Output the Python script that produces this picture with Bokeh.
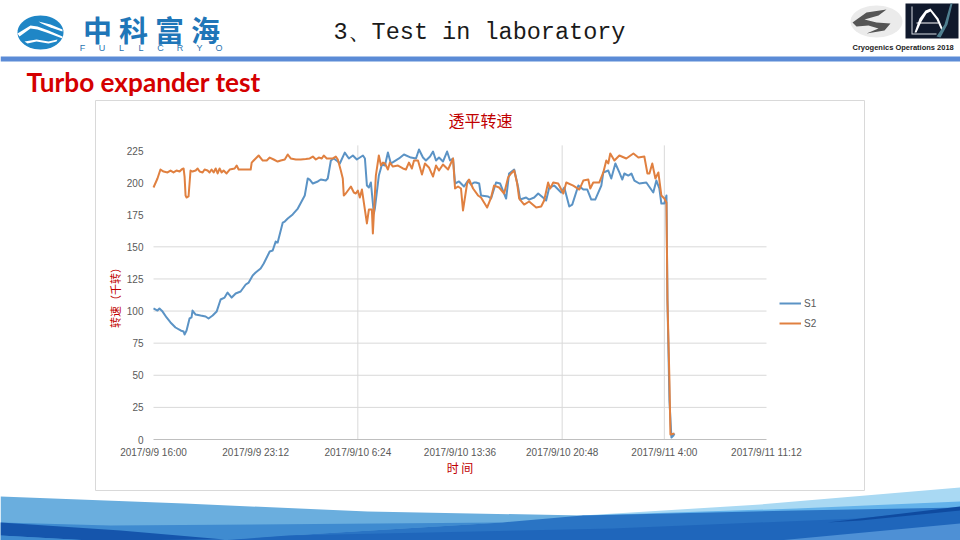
from bokeh.embed import file_html
from bokeh.resources import INLINE
from bokeh.plotting import figure
from bokeh.models import (ColumnDataSource, FixedTicker, Label, Legend, LegendItem,
                          LinearAxis, PolyAnnotation)
import numpy as np

TITLE = "3、Test in laboratory"
SUBTITLE = "Turbo expander test"
CHART_TITLE = "透平转速"
X_LABEL = "时 间"
Y_LABEL = "转速（千转）"
SERIES_NAMES = ["S1", "S2"]

# hours after 2017/9/9 16:00
X_TICKS = [0, 7.2, 14.4, 21.6, 28.8, 36, 43.2]
X_TICK_LABELS = ["2017/9/9 16:00", "2017/9/9 23:12", "2017/9/10 6:24", "2017/9/10 13:36",
                 "2017/9/10 20:48", "2017/9/11 4:00", "2017/9/11 11:12"]
Y_TICKS = [0, 25, 50, 75, 100, 125, 150, 175, 200, 225]
X_GRID = [14.4, 28.8, 36]
Y_GRID = [25, 50, 75, 100, 125, 150]
X_SPAN = (0, 43.2)
Y_SPAN = (0, 229)

S1_H = [0,.28,.42,.64,.92,1.20,1.55,1.91,2.12,2.19,2.33,2.54,2.68,2.75,2.97,3.32,3.67,3.88,4.17,4.45,
        4.73,5.01,5.22,5.51,5.79,6.14,6.50,6.71,6.99,7.20,7.55,7.77,8.19,8.40,8.61,8.75,9.11,9.25,9.46,9.81,
        10.17,10.66,10.87,11.01,11.23,11.58,11.79,12.14,12.28,12.50,12.71,12.99,13.13,13.48,13.77,14.05,14.33,14.76,14.90,15.04,
        15.18,15.32,15.53,15.60,15.88,16.10,16.31,16.52,16.73,16.94,17.30,17.65,18.14,18.50,18.71,18.99,19.20,19.49,19.70,19.91,
        20.12,20.40,20.69,20.90,21.11,21.25,21.53,21.88,22.17,22.38,22.59,22.73,22.95,23.08,23.58,23.79,24.14,24.43,24.85,25.06,
        25.42,25.70,25.84,26.26,26.47,26.83,27.11,27.53,27.67,27.89,28.24,28.73,28.95,29.30,29.51,29.94,30.29,30.57,30.85,31.13,
        31.56,31.70,32.05,32.26,32.55,32.83,33.04,33.18,33.46,33.68,33.89,34.24,34.73,35.22,35.44,35.65,35.79,36.00,36.15,36.22,
        36.36,36.50,36.64,36.71]
S1_V = [102.0,100.4,102.0,99.6,95.0,91.1,87.2,84.9,84.1,81.7,84.9,94.2,95.0,100.4,97.3,96.5,95.8,94.2,96.5,99.6,
        109.0,110.5,114.4,110.5,113.7,115.2,120.7,122.2,127.7,130.0,133.1,137.0,146.4,147.1,154.1,153.4,168.9,169.7,172.0,175.2,
        179.8,190.0,203.2,202.4,199.3,200.9,202.4,201.6,203.2,217.2,218.8,216.4,214.9,223.4,218.8,221.1,218.0,221.1,218.8,197.7,
        196.2,200.1,175.9,179.8,205.5,214.1,213.3,223.4,214.9,216.4,218.8,221.9,219.5,218.8,225.8,219.5,217.2,220.3,224.2,217.2,
        219.5,216.4,224.2,217.2,218.8,199.3,200.9,197.0,201.6,198.5,200.1,200.1,199.3,190.0,189.2,187.6,200.1,199.3,187.6,207.1,
        210.2,196.2,186.8,188.4,186.8,188.4,191.5,187.6,186.1,196.2,197.7,192.3,196.2,181.4,182.9,197.7,194.6,194.6,186.8,186.8,
        197.7,207.9,209.4,203.2,214.9,207.9,202.4,207.1,205.5,207.1,201.6,199.3,200.1,192.3,201.6,195.4,183.7,183.7,190.0,108.2,
        30.4,1.6,3.1,4.7]

S2_H = [0,.28,.49,.71,.99,1.20,1.41,1.62,1.84,1.98,2.12,2.19,2.26,2.33,2.47,2.61,2.75,2.97,3.11,3.25,
        3.46,3.60,3.81,3.95,4.09,4.24,4.38,4.52,4.66,4.80,4.94,5.15,5.37,5.72,5.86,6.00,6.28,6.85,6.92,7.06,
        7.27,7.41,7.70,7.98,8.19,8.47,8.75,8.97,9.25,9.46,9.67,10.03,10.38,10.73,11.01,11.23,11.44,11.65,11.86,12.00,
        12.21,12.64,12.85,12.99,13.20,13.34,13.41,13.55,13.91,14.12,14.26,14.40,14.54,14.69,15.04,15.18,15.39,15.46,15.67,15.88,
        16.03,16.17,16.31,16.52,16.66,16.87,17.23,17.58,17.79,18.00,18.21,18.36,18.64,18.92,19.13,19.41,19.70,19.91,20.12,20.40,
        20.76,21.11,21.25,21.46,21.67,21.81,22.10,22.24,22.52,22.87,23.08,23.51,23.79,24.00,24.36,24.71,24.99,25.20,25.42,25.63,
        25.77,26.12,26.47,26.97,27.32,27.53,27.81,27.96,28.17,28.52,28.88,29.09,29.58,30.01,30.29,30.64,30.78,30.99,31.42,31.70,
        31.91,32.05,32.19,32.48,32.83,33.32,33.82,34.17,34.59,34.81,34.95,35.15,35.37,35.58,35.79,36.00,36.15,36.22,36.36,36.43,
        36.71]
S2_V = [196.2,203.2,210.2,208.6,207.9,209.4,207.9,209.4,208.6,210.2,211.0,204.7,190.0,188.4,189.2,209.4,208.6,209.4,211.0,208.6,
        207.9,210.2,209.4,207.9,210.2,207.9,211.0,207.1,211.0,207.9,209.4,207.1,210.2,211.0,213.3,210.2,210.2,210.2,215.6,217.2,
        219.5,221.1,217.2,217.2,219.5,218.0,216.4,217.2,218.0,221.9,218.8,218.0,218.0,218.4,218.8,220.3,218.0,219.5,218.8,221.1,
        218.8,218.8,220.3,218.0,209.4,203.2,190.0,191.5,197.0,192.3,191.5,193.8,188.4,194.6,168.2,179.1,179.1,160.4,205.5,221.1,
        213.3,215.6,214.9,210.2,215.6,212.5,213.3,211.0,210.2,215.6,211.0,217.2,217.2,206.3,214.9,211.8,204.7,213.3,209.4,214.1,
        210.2,218.8,195.4,197.0,195.4,178.3,199.3,202.4,195.4,190.0,188.4,180.6,188.4,197.7,196.2,191.5,204.0,207.1,209.4,199.3,
        187.6,182.9,185.3,180.6,181.4,186.1,200.1,195.4,200.1,199.3,191.5,200.1,197.7,194.6,201.6,202.4,195.4,200.1,200.1,207.9,
        217.2,214.9,222.7,217.2,221.1,218.8,222.7,219.5,220.3,207.1,207.1,214.9,203.2,207.9,190.0,187.6,184.5,108.2,45.9,3.9,
        4.7]

W, H = 960, 540
F_L, F_R, F_T, F_B = 153, 766, 150, 439   # plot rectangle on the slide
PX_PER_H = (F_R - F_L) / 43.2
PX_PER_V = (F_B - F_T) / 225

# the frame fills the whole slide; the chart's scale is extended to the slide's edges
p = figure(width=W, height=H, output_backend="svg", toolbar_location=None,
           x_axis_type=None, y_axis_type=None,
           x_range=(-F_L / PX_PER_H, (W - F_L) / PX_PER_H),
           y_range=(-(H - F_B) / PX_PER_V, F_B / PX_PER_V),
           min_border=0, background_fill_color="white", border_fill_color="white",
           outline_line_color=None)
p.xgrid.visible = False
p.ygrid.visible = False


def poly(pts, color, line=None, fill_alpha=1.0):
    xs = [a for a, _ in pts]
    ys = [b for _, b in pts]
    p.add_layout(PolyAnnotation(xs=xs, ys=ys, xs_units="canvas", ys_units="canvas",
                                fill_color=color, fill_alpha=fill_alpha,
                                line_color=line, line_alpha=1.0 if line else 0.0,
                                level="underlay", editable=False))


def text(x, y, s, size, color, font="Liberation Sans", style="normal", align="left"):
    p.add_layout(Label(x=x, y=y, x_units="canvas", y_units="canvas", text=s,
                       text_font_size=f"{size}px", text_color=color, text_font=font,
                       text_font_style=style, text_align=align, text_baseline="middle"))


def ell(cx, cy, rx, ry, n=48):
    t = np.linspace(0, 2 * np.pi, n, endpoint=False)
    return list(zip((cx + rx * np.cos(t)).tolist(), (cy + ry * np.sin(t)).tolist()))


# chart card
poly([(95, 100), (864, 100), (864, 490), (95, 490)], "white", line="#d9d9d9")

# header rule
poly([(0, 56), (960, 56), (960, 61), (0, 61)], "#5b8bd6")

# footer waves
poly([(582, 515), (760, 504), (960, 487), (960, 540), (582, 540)], "#a9d9f3")
poly([(0, 496), (184, 503), (367, 511), (582, 515), (700, 530), (700, 540), (0, 540)], "#6aaede")
poly([(582, 515), (796, 508), (960, 501), (960, 520), (582, 530)], "#63b2ea")
poly([(0, 522), (110, 525), (502, 522), (288, 535), (220, 540), (0, 540)], "#3f8bd0")
poly([(502, 522), (582, 515), (796, 510), (960, 507), (960, 540), (220, 540), (288, 535)], "#2a74c4")
poly([(288, 535), (612, 528), (857, 518), (960, 508), (960, 540), (220, 540)], "#1f66bb")
poly([(0, 522), (120, 530), (224, 539), (90, 540), (0, 535)], "#1555ac")
poly([(0, 535), (90, 540), (0, 540)], "#3f8bd0")
poly([(827, 522), (960, 506), (960, 510), (860, 520)], "#0f4ba0")
poly([(778, 540), (960, 523), (960, 540)], "#4e90d5")

# left logo
poly(ell(40, 32, 23, 17), "#1f86c6")
poly([(17, 33), (30, 25), (37, 26), (48, 30), (62, 36), (62, 38), (46, 32), (37, 29), (30, 28), (19, 36)], "white")
poly([(38, 21), (50, 24), (62, 29), (62, 31), (50, 27), (41, 23)], "white")
poly([(24, 41), (36, 39), (48, 41), (57, 39), (56, 41), (48, 43), (36, 41), (27, 43)], "white")
for i, ch in enumerate("中科富海"):
    text(97 + i * 36, 28, ch, 29, "#1f76b8", font="Noto Sans CJK SC", style="bold", align="center")
for i, ch in enumerate("FULLCRYO"):
    text(82 + i * 19.5, 47, ch, 9, "#2a74b0", align="center")

# right logos
poly(ell(876, 21, 26, 16), "#ebebeb")
poly([(852, 22), (866, 12), (886, 9), (878, 15), (864, 19), (876, 22), (890, 23), (884, 30), (866, 33),
      (878, 28), (868, 25), (856, 26)], "#555555")
poly([(905, 3), (958, 3), (958, 38), (905, 38)], "#10192c")
poly([(911, 6), (912, 6), (912, 33), (936, 33), (936, 34), (911, 34)], "#d8dde3")
poly([(914, 32), (919, 18), (925, 10), (930, 8), (938, 18), (943, 30), (941, 30), (936, 19), (930, 11),
      (926, 13), (921, 21), (916, 32)], "white")
poly([(916, 22), (938, 22), (938, 23), (916, 23)], "white")
poly([(936, 36), (944, 24), (950, 3), (952, 3), (947, 24), (940, 37)], "#4f7f90")
text(852, 47, "Cryogenics Operations 2018", 7.5, "#222222", style="bold")

# headings
text(333, 32, TITLE, 23.5, "#1a1a1a", font="Liberation Mono")
text(26, 81, SUBTITLE, 26.2, "#d40000", font="Lato", style="bold")
text(480, 119, CHART_TITLE, 16, "#c00000", font="Noto Sans CJK SC", align="center")

# axes
ax = LinearAxis(fixed_location=0, ticker=FixedTicker(ticks=X_TICKS), bounds=X_SPAN)
ax.major_label_overrides = {t: s for t, s in zip(X_TICKS, X_TICK_LABELS)}
ax.major_label_text_font = "Liberation Sans"
ax.major_label_text_font_size = "10px"
ax.major_label_text_color = "#595959"
ax.major_label_standoff = 7
ax.major_tick_line_color = None
ax.major_tick_out = 0
ax.minor_tick_line_color = None
ax.axis_line_color = "#bfbfbf"
ax.axis_label = X_LABEL
ax.axis_label_text_font = "Noto Sans CJK SC"
ax.axis_label_text_font_size = "12px"
ax.axis_label_text_font_style = "normal"
ax.axis_label_text_color = "#c00000"
ax.axis_label_standoff = -2
p.add_layout(ax, "below")

ay = LinearAxis(fixed_location=0, ticker=FixedTicker(ticks=Y_TICKS), bounds=(0, 225))
ay.major_label_text_font = "Liberation Sans"
ay.major_label_text_font_size = "10px"
ay.major_label_text_color = "#595959"
ay.major_label_standoff = 10
ay.major_tick_line_color = None
ay.major_tick_out = 0
ay.minor_tick_line_color = None
ay.axis_line_color = None
ay.axis_label = Y_LABEL
ay.axis_label_text_font = "Noto Sans CJK SC"
ay.axis_label_text_font_size = "11px"
ay.axis_label_text_font_style = "normal"
ay.axis_label_text_color = "#c00000"
ay.axis_label_standoff = 1
p.add_layout(ay, "left")

# grid lines, only inside the plot rectangle
p.segment(x0=X_GRID, x1=X_GRID, y0=[Y_SPAN[0]] * len(X_GRID), y1=[Y_SPAN[1]] * len(X_GRID),
          line_color="#d9d9d9", line_width=1)
p.segment(x0=[X_SPAN[0]] * len(Y_GRID), x1=[X_SPAN[1]] * len(Y_GRID), y0=Y_GRID, y1=Y_GRID,
          line_color="#d9d9d9", line_width=1)

# data
s1 = ColumnDataSource(dict(x=S1_H, y=S1_V))
s2 = ColumnDataSource(dict(x=S2_H, y=S2_V))
r1 = p.line("x", "y", source=s1, line_color="#5b93c5", line_width=2, line_join="round")
r2 = p.line("x", "y", source=s2, line_color="#e08040", line_width=2, line_join="round")

legend = Legend(items=[LegendItem(label=SERIES_NAMES[0], renderers=[r1]),
                       LegendItem(label=SERIES_NAMES[1], renderers=[r2])],
                location=(779, H - 333),
                background_fill_alpha=0, border_line_alpha=0,
                label_text_font="Liberation Sans", label_text_font_size="10px",
                label_text_color="#595959", glyph_width=22, glyph_height=20,
                label_standoff=3, spacing=0, margin=0, padding=0)
p.add_layout(legend)

open("out.html", "w").write(file_html(p, INLINE))
